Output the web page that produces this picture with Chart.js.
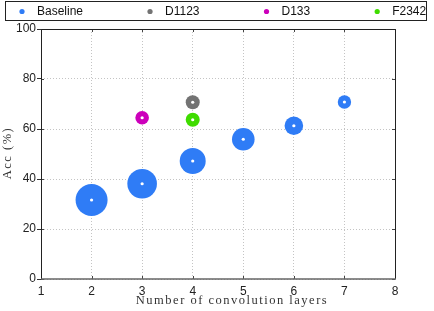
<!DOCTYPE html>
<html><head><meta charset="utf-8">
<script src="https://cdn.jsdelivr.net/npm/chart.js@4/dist/chart.umd.min.js"></script>
<style>html,body{margin:0;padding:0;background:#fff;}#wrap{width:434px;height:311px;}</style>
</head><body><div id="wrap"><canvas id="c" width="434" height="311"></canvas></div>
<script>
const seriesNames = ['Baseline', 'D1123', 'D133', 'F2342'];
const seriesColors = ['#2f7cf6', '#737373', '#cc00bb', '#3fdc00'];

const baselineLayers = [2, 3, 4, 5, 6, 7];
const baselineAcc = [31.6, 38.1, 47.2, 55.9, 61.3, 70.8];
const baselineSize = [16, 14.8, 13, 11.3, 9.3, 6.7];

const d1123Layers = [4];
const d1123Acc = [70.7];
const d1123Size = [7];

const d133Layers = [3];
const d133Acc = [64.5];
const d133Size = [6.8];

const f2342Layers = [4];
const f2342Acc = [63.7];
const f2342Size = [7];

const xTickValues = [1, 2, 3, 4, 5, 6, 7, 8];
const xTickLabels = ['1', '2', '3', '4', '5', '6', '7', '8'];
const yTickValues = [0, 20, 40, 60, 80, 100];
const yTickLabels = ['0', '20', '40', '60', '80', '100'];

const xTitle = 'Number of convolution layers';
const yTitle = 'Acc (%)';

function pts(xs, ys, rs) { return xs.map((x, i) => ({ x: x, y: ys[i], r: rs[i] })); }

const allData = [
  pts(baselineLayers, baselineAcc, baselineSize),
  pts(d1123Layers, d1123Acc, d1123Size),
  pts(d133Layers, d133Acc, d133Size),
  pts(f2342Layers, f2342Acc, f2342Size)
];

const datasets = seriesNames.map((n, i) => ({
  label: n,
  data: allData[i],
  backgroundColor: seriesColors[i],
  borderWidth: 0,
  hoverRadius: 0
}));

const SANS = '"Liberation Sans", Arial, sans-serif';
const SERIF = '"Liberation Serif", "DejaVu Serif", serif';

const decor = {
  id: 'decor',
  afterDatasetsDraw(chart) {
    const ctx = chart.ctx;
    ctx.save();
    ctx.fillStyle = '#ffffff';
    chart.data.datasets.forEach((ds, i) => {
      chart.getDatasetMeta(i).data.forEach(el => {
        ctx.beginPath();
        ctx.arc(el.x, el.y, 1.6, 0, Math.PI * 2);
        ctx.fill();
      });
    });
    ctx.restore();
  },
  afterDraw(chart) {
    const ctx = chart.ctx;
    const a = chart.chartArea;
    const xs = chart.scales.x, ys = chart.scales.y;
    ctx.save();
    // inner ticks on top / bottom / right
    ctx.strokeStyle = '#444';
    ctx.lineWidth = 1;
    ctx.beginPath();
    xTickValues.forEach(v => {
      const px = Math.round(xs.getPixelForValue(v)) + 0.5;
      ctx.moveTo(px, a.top); ctx.lineTo(px, a.top + 3);
      ctx.moveTo(px, a.bottom); ctx.lineTo(px, a.bottom - 3);
    });
    yTickValues.forEach(v => {
      const py = Math.round(ys.getPixelForValue(v)) + 0.5;
      ctx.moveTo(a.right, py); ctx.lineTo(a.right - 3, py);
      ctx.moveTo(a.left, py); ctx.lineTo(a.left + 3, py);
    });
    ctx.stroke();
    // frame
    const L = Math.round(a.left) + 0.5, R = Math.round(a.right) + 0.5;
    const T = Math.round(a.top) + 0.5, B = Math.round(a.bottom);
    ctx.strokeStyle = '#222';
    ctx.beginPath();
    ctx.moveTo(L, T); ctx.lineTo(R, T); ctx.lineTo(R, B);
    ctx.moveTo(L, T); ctx.lineTo(L, B);
    ctx.stroke();
    ctx.strokeStyle = '#666';
    ctx.lineWidth = 1.6;
    ctx.beginPath();
    ctx.moveTo(L - 0.5, B); ctx.lineTo(R + 0.5, B);
    ctx.stroke();

    // legend
    ctx.lineWidth = 1;
    ctx.strokeStyle = '#222';
    ctx.strokeRect(5.5, 1.5, 421, 19);
    ctx.font = '12px ' + SANS;
    ctx.textBaseline = 'middle';
    ctx.textAlign = 'left';
    let x = 16;
    seriesNames.forEach((n, i) => {
      ctx.fillStyle = seriesColors[i];
      ctx.beginPath();
      ctx.arc(x + 6, 11.5, 2.6, 0, Math.PI * 2);
      ctx.fill();
      ctx.fillStyle = '#111';
      const tx = x + 21;
      ctx.fillText(n, tx, 12);
      x = tx + ctx.measureText(n).width + 61;
    });

    // axis titles
    ctx.fillStyle = '#333';
    ctx.font = '12.5px ' + SERIF;
    ctx.letterSpacing = '1.5px';
    ctx.textAlign = 'center';
    ctx.textBaseline = 'middle';
    ctx.fillText(xTitle, 232, 301);
    ctx.translate(8, 153);
    ctx.rotate(-Math.PI / 2);
    ctx.fillText(yTitle, 0, 0);
    ctx.restore();
  }
};

new Chart(document.getElementById('c'), {
  type: 'bubble',
  data: { datasets: datasets },
  plugins: [decor],
  options: {
    responsive: false,
    devicePixelRatio: 1,
    animation: false,
    events: [],
    layout: { padding: { top: 29, right: 39, left: 0, bottom: 0 } },
    plugins: { legend: { display: false }, tooltip: { enabled: false } },
    scales: {
      x: {
        type: 'linear', min: 1, max: 8,
        afterBuildTicks: s => { s.ticks = xTickValues.map(v => ({ value: v })); },
        afterFit: s => { s.height = 32; },
        ticks: {
          color: '#222', padding: 5, maxRotation: 0, autoSkip: false,
          font: { family: SANS, size: 12 },
          callback: (v) => xTickLabels[xTickValues.indexOf(v)]
        },
        grid: { color: '#c4c4c4', lineWidth: 1, drawTicks: false, borderDash: [1, 2] },
        border: { display: false, dash: [1, 2] }
      },
      y: {
        type: 'linear', min: 0, max: 100,
        afterBuildTicks: s => { s.ticks = yTickValues.map(v => ({ value: v })); },
        afterFit: s => { s.width = 41; },
        ticks: {
          color: '#222', padding: 1, autoSkip: false,
          font: { family: SANS, size: 12 },
          callback: (v) => yTickLabels[yTickValues.indexOf(v)]
        },
        grid: { color: '#c4c4c4', lineWidth: 1, drawTicks: true, tickLength: 4, tickColor: '#333', tickBorderDash: [], borderDash: [1, 2] },
        border: { display: false, dash: [1, 2] }
      }
    }
  }
});
</script>
</body></html>
